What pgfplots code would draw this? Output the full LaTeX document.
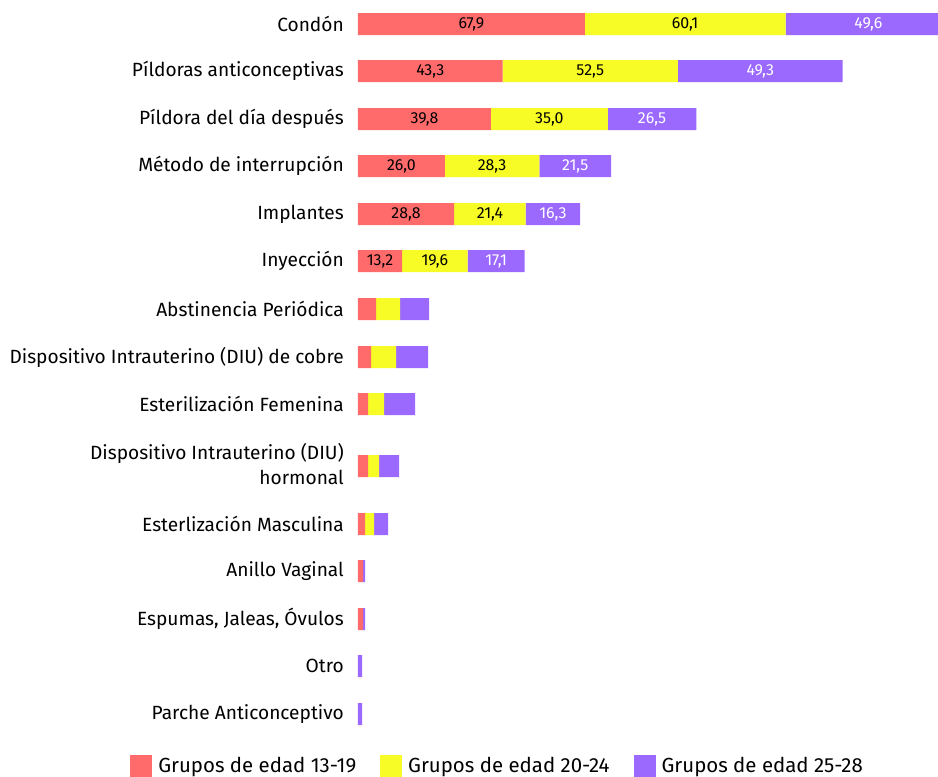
\documentclass[border=0pt]{standalone}
\usepackage{pgfplots}
\pgfplotsset{compat=1.18}
\usepackage{fontspec}
\setmainfont{Fira Sans}
\definecolor{cred}{HTML}{FF6B6B}
\definecolor{cyel}{HTML}{F7FB26}
\definecolor{cpur}{HTML}{9C69FF}
\begin{document}
\begin{tikzpicture}
\begin{axis}[
  anchor=origin,
  x=3.34bp, y=1bp,
  y dir=reverse,
  xmin=0, xmax=173.6, ymin=0, ymax=777,
  xbar stacked,
  bar width=22bp,
  axis line style={draw=none},
  major tick length=0pt,
  xtick=\empty,
  ytick={24,71,119,166,214,261,309,357,404,464,524,571,619,666,714},
  yticklabels={Condón,Píldoras anticonceptivas,Píldora del día después,Método de interrupción,Implantes,Inyección,Abstinencia Periódica,Dispositivo Intrauterino (DIU) de cobre,Esterilización Femenina,{Dispositivo Intrauterino (DIU)\\hormonal},Esterlización Masculina,Anillo Vaginal,{Espumas, Jaleas, Óvulos},Otro,Parche Anticonceptivo},
  yticklabel style={font=\fontsize{19.2}{25}\selectfont, align=right, inner sep=0pt, anchor=east, xshift=-14bp},
  clip=true,
  legend columns=3,
  legend style={draw=none, fill=none, at={(-0.393,0.0142)}, anchor=west, inner sep=0pt,
    font=\fontsize{20.5}{22}\selectfont,
    /tikz/every odd column/.append style={column sep=4bp},
    /tikz/every even column/.append style={column sep=22bp}},
  legend image code/.code={\fill[#1] (0bp,-11bp) rectangle (22bp,11bp);},
]
\addplot[fill=cred, draw=none] coordinates {
(67.9,24) (43.3,71) (39.8,119) (26.0,166) (28.8,214) (13.2,261) (5.4,309) (3.9,357) (3.0,404) (3.0,466) (2.1,524) (1.5,571) (1.5,619) (0,666) (0,714)};
\addplot[fill=cyel, draw=none] coordinates {
(60.1,24) (52.5,71) (35.0,119) (28.3,166) (21.4,214) (19.6,261) (7.2,309) (7.5,357) (4.8,404) (3.3,466) (2.7,524) (0,571) (0,619) (0,666) (0,714)};
\addplot[fill=cpur, draw=none] coordinates {
(49.6,24) (49.3,71) (26.5,119) (21.5,166) (16.3,214) (17.1,261) (8.7,309) (9.6,357) (9.3,404) (6.0,466) (4.2,524) (0.6,571) (0.6,619) (1.2,666) (1.2,714)};
\legend{Grupos de edad 13-19,Grupos de edad 20-24,Grupos de edad 25-28}
\end{axis}
\begin{axis}[
  anchor=origin,
  x=3.34bp, y=1bp,
  y dir=reverse,
  xmin=0, xmax=173.6, ymin=0, ymax=777,
  hide axis,
  clip=false,
]
\addplot[only marks, mark=none, nodes near coords, point meta=explicit symbolic,
  every node near coord/.style={anchor=center, font=\fontsize{16}{16}\selectfont, text=black}] coordinates {
(33.95,24) [67,9] (97.95,24) [60,1]
(21.65,71) [43,3] (69.55,71) [52,5]
(19.9,119) [39,8] (57.3,119) [35,0]
(13.0,166) [26,0] (40.15,166) [28,3]
(14.4,214) [28,8] (39.5,214) [21,4]
(6.6,261) [13,2] (23.0,261) [19,6]};
\addplot[only marks, mark=none, nodes near coords, point meta=explicit symbolic,
  every node near coord/.style={anchor=center, font=\fontsize{16}{16}\selectfont, text=white}] coordinates {
(152.8,24) [49,6] (120.45,71) [49,3] (88.05,119) [26,5] (65.05,166) [21,5] (58.35,214) [16,3] (41.35,261) [17,1]};
\end{axis}
\useasboundingbox (-358bp,0bp) rectangle (580bp,-777bp);
\end{tikzpicture}
\end{document}
